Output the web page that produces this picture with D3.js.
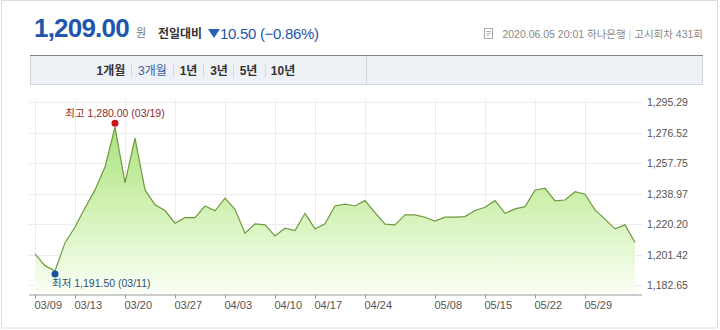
<!DOCTYPE html>
<html>
<head>
<meta charset="utf-8">
<script src="https://cdn.jsdelivr.net/npm/d3@7"></script>
<style>
body { margin:0; background:#fff; }
svg text { font-family: "Liberation Sans", Arial, "Noto Sans CJK KR", sans-serif; }
</style>
</head>
<body>
<script>
//trading days shown in the 3 month chart
var dates = ["03/09","03/10","03/11","03/12","03/13","03/16","03/17","03/18","03/19","03/20",
  "03/23","03/24","03/25","03/26","03/27","03/30","03/31","04/01","04/02","04/03",
  "04/06","04/07","04/08","04/09","04/10","04/13","04/14","04/16","04/17","04/20",
  "04/21","04/22","04/23","04/24","04/27","04/28","04/29","05/04","05/06","05/07",
  "05/08","05/11","05/12","05/13","05/14","05/15","05/18","05/19","05/20","05/21",
  "05/22","05/25","05/26","05/27","05/28","05/29","06/01","06/02","06/03","06/04","06/05"];

//won per dollar
var rates = [1202.0,1194.8,1191.5,1208.8,1218.6,1230.3,1241.4,1255.5,1280.0,1245.7,
  1273.2,1241.4,1232.2,1228.7,1220.9,1224.3,1224.3,1231.5,1228.5,1236.3,
  1229.5,1214.7,1220.5,1219.9,1213.1,1217.8,1216.4,1227.0,1217.4,1220.5,
  1231.5,1232.6,1231.5,1234.8,1227.4,1220.3,1219.9,1226.0,1226.0,1224.6,
  1222.2,1224.6,1224.6,1225.0,1228.7,1230.7,1234.8,1227.0,1229.7,1231.1,
  1241.2,1242.4,1234.6,1235.2,1240.3,1238.7,1229.1,1223.4,1217.4,1219.9,1209.0];

var xTickLabels = ["03/09","03/13","03/20","03/27","04/03","04/10","04/17","04/24","05/08","05/15","05/22","05/29"];
var yTicks = [1182.65,1201.42,1220.20,1238.97,1257.75,1276.52,1295.29];
var tabs = ["1개월","3개월","1년","3년","5년","10년"];

var width = 720, height = 330;

var svg = d3.select("body").append("svg")
    .attr("width", width)
    .attr("height", height);

//outer frame
svg.append("rect")
    .attr("x", 1.5).attr("y", 0.5)
    .attr("width", 716).attr("height", 327.5)
    .attr("fill", "none").attr("stroke", "#dcdcdc");

//header: current rate
svg.append("text")
    .attr("x", 34).attr("y", 37)
    .attr("font-size", 26).attr("font-weight", "bold")
    .attr("letter-spacing", -0.8)
    .attr("fill", "#1f55ad")
    .text("1,209.00");
svg.append("text")
    .attr("x", 136).attr("y", 37)
    .attr("font-size", 11).attr("fill", "#777")
    .text("원");
svg.append("text")
    .attr("x", 158).attr("y", 38)
    .attr("font-size", 12).attr("font-weight", "bold").attr("fill", "#333")
    .text("전일대비");
svg.append("path")
    .attr("d", "M208,29 L220,29 L214,38 Z")
    .attr("fill", "#2d5fb8");
svg.append("text")
    .attr("x", 220).attr("y", 38.5)
    .attr("font-size", 15).attr("fill", "#1f55ad")
    .attr("letter-spacing", -0.3)
    .text("10.50 (\u22120.86%)");

//header: notice info at right
var info = svg.append("text")
    .attr("x", 703).attr("y", 38)
    .attr("text-anchor", "end")
    .attr("font-size", 10.5).attr("fill", "#888");
info.append("tspan").text("2020.06.05 20:01 하나은행 ");
info.append("tspan").attr("fill", "#ccc").text("| ");
info.append("tspan").text("고시회차 431회");
//little document icon
svg.append("rect").attr("x", 484.5).attr("y", 28.5).attr("width", 8).attr("height", 10)
    .attr("fill", "#fff").attr("stroke", "#aaa");
svg.append("path").attr("d", "M486.5,31.5 H490.5 M486.5,33.5 H490.5 M486.5,35.5 H489")
    .attr("stroke", "#aaa");

//period tab bar
svg.append("rect")
    .attr("x", 30.5).attr("y", 55.5).attr("width", 672).attr("height", 29)
    .attr("fill", "#eef1f6").attr("stroke", "#d0d5dc");
svg.append("line")
    .attr("x1", 30).attr("x2", 703).attr("y1", 55.5).attr("y2", 55.5)
    .attr("stroke", "#7f858f");
svg.append("line")
    .attr("x1", 366.5).attr("x2", 366.5).attr("y1", 56).attr("y2", 85)
    .attr("stroke", "#d0d5dc");

var tabCenters = [111, 152.5, 188.5, 219, 248.5, 283];
var tabSeps = [131.5, 173.5, 203.5, 233.5, 265.5];
svg.selectAll(".tab")
    .data(tabs)
    .enter()
    .append("text")
    .attr("class", "tab")
    .attr("x", function(d, i){ return tabCenters[i]; })
    .attr("y", 75)
    .attr("text-anchor", "middle")
    .attr("font-size", 12)
    .attr("font-weight", function(d, i){ return i == 1 ? "normal" : "bold"; })
    .attr("fill", function(d, i){ return i == 1 ? "#3b5ea6" : "#333"; })
    .text(function(d){ return d; });
svg.selectAll(".tabSep")
    .data(tabSeps)
    .enter()
    .append("line")
    .attr("class", "tabSep")
    .attr("x1", function(d){ return d; }).attr("x2", function(d){ return d; })
    .attr("y1", 64).attr("y2", 77)
    .attr("stroke", "#d3d7de");

//scales
var x = d3.scaleLinear().domain([0, dates.length - 1]).range([35, 635]);
var y = d3.scaleLinear().domain([1182.65, 1295.29]).range([285.4, 102.3]);
var plotLeft = 29, plotRight = 642, plotTop = 99, plotBottom = 294.5;

var tickIdx = xTickLabels.map(function(l){ return dates.indexOf(l); });

//gridlines
svg.append("g")
    .attr("class", "ygrid")
    .selectAll("line")
    .data(yTicks)
    .enter()
    .append("line")
    .attr("x1", plotLeft).attr("x2", plotRight)
    .attr("y1", function(d){ return Math.round(y(d)) + 0.5; })
    .attr("y2", function(d){ return Math.round(y(d)) + 0.5; })
    .attr("stroke", "#ececec");
svg.append("g")
    .attr("class", "xgrid")
    .selectAll("line")
    .data(tickIdx)
    .enter()
    .append("line")
    .attr("x1", function(d){ return Math.round(x(d)) + 0.5; })
    .attr("x2", function(d){ return Math.round(x(d)) + 0.5; })
    .attr("y1", plotTop).attr("y2", plotBottom)
    .attr("stroke", "#ececec");

//area gradient
var grad = svg.append("defs").append("linearGradient")
    .attr("id", "areaGrad")
    .attr("gradientUnits", "userSpaceOnUse")
    .attr("x1", 0).attr("x2", 0).attr("y1", 120).attr("y2", plotBottom);
grad.append("stop").attr("offset", "0%").attr("stop-color", "#a6e07a");
grad.append("stop").attr("offset", "45%").attr("stop-color", "#cdf0ad");
grad.append("stop").attr("offset", "100%").attr("stop-color", "#fbfff6");

var area = d3.area()
    .x(function(d, i){ return x(i); })
    .y0(plotBottom)
    .y1(function(d){ return y(d); });
var line = d3.line()
    .x(function(d, i){ return x(i); })
    .y(function(d){ return y(d); });

svg.append("path")
    .datum(rates)
    .attr("d", area)
    .attr("fill", "url(#areaGrad)");
svg.append("path")
    .datum(rates)
    .attr("d", line)
    .attr("fill", "none")
    .attr("stroke", "#6e9a3e")
    .attr("stroke-width", 1.2);

//x axis
var xAxis = d3.axisBottom(x)
    .tickValues(tickIdx)
    .tickSize(4)
    .tickSizeOuter(0)
    .tickFormat(function(d){ return dates[d]; });
var gx = svg.append("g")
    .attr("transform", "translate(0," + plotBottom + ")")
    .call(xAxis);
gx.select(".domain").attr("d", "M" + plotLeft + ",0.5H" + plotRight).attr("stroke", "#9a9a9a");
gx.selectAll(".tick line").attr("stroke", "#9a9a9a");
gx.selectAll(".tick text")
    .attr("text-anchor", "start")
    .attr("x", -1).attr("y", 7)
    .attr("font-size", 11)
    .attr("fill", "#555");

//y axis labels on the right
var yAxis = d3.axisRight(y)
    .tickValues(yTicks)
    .tickSize(0)
    .tickFormat(d3.format(",.2f"));
var gy = svg.append("g")
    .attr("transform", "translate(" + plotRight + ",0)")
    .call(yAxis);
gy.select(".domain").remove();
gy.selectAll(".tick text")
    .attr("x", 5)
    .attr("font-size", 10.5)
    .attr("fill", "#555");

//high and low markers
var hiIdx = rates.indexOf(d3.max(rates)),
    loIdx = rates.indexOf(d3.min(rates));

svg.append("circle")
    .attr("cx", x(hiIdx)).attr("cy", y(rates[hiIdx]) - 4)
    .attr("r", 3.5).attr("fill", "#c8141e");
svg.append("text")
    .attr("x", x(hiIdx)).attr("y", y(rates[hiIdx]) - 10)
    .attr("text-anchor", "middle")
    .attr("font-size", 10.5).attr("fill", "#8e2a2e")
    .text("최고 " + d3.format(",.2f")(rates[hiIdx]) + " (" + dates[hiIdx] + ")");

svg.append("circle")
    .attr("cx", x(loIdx)).attr("cy", y(rates[loIdx]) + 3)
    .attr("r", 3.5).attr("fill", "#1d4fa6");
svg.append("text")
    .attr("x", x(loIdx) - 3).attr("y", y(rates[loIdx]) + 16)
    .attr("font-size", 10.5).attr("fill", "#2e4f78")
    .text("최저 " + d3.format(",.2f")(rates[loIdx]) + " (" + dates[loIdx] + ")");
</script>
</body>
</html>
